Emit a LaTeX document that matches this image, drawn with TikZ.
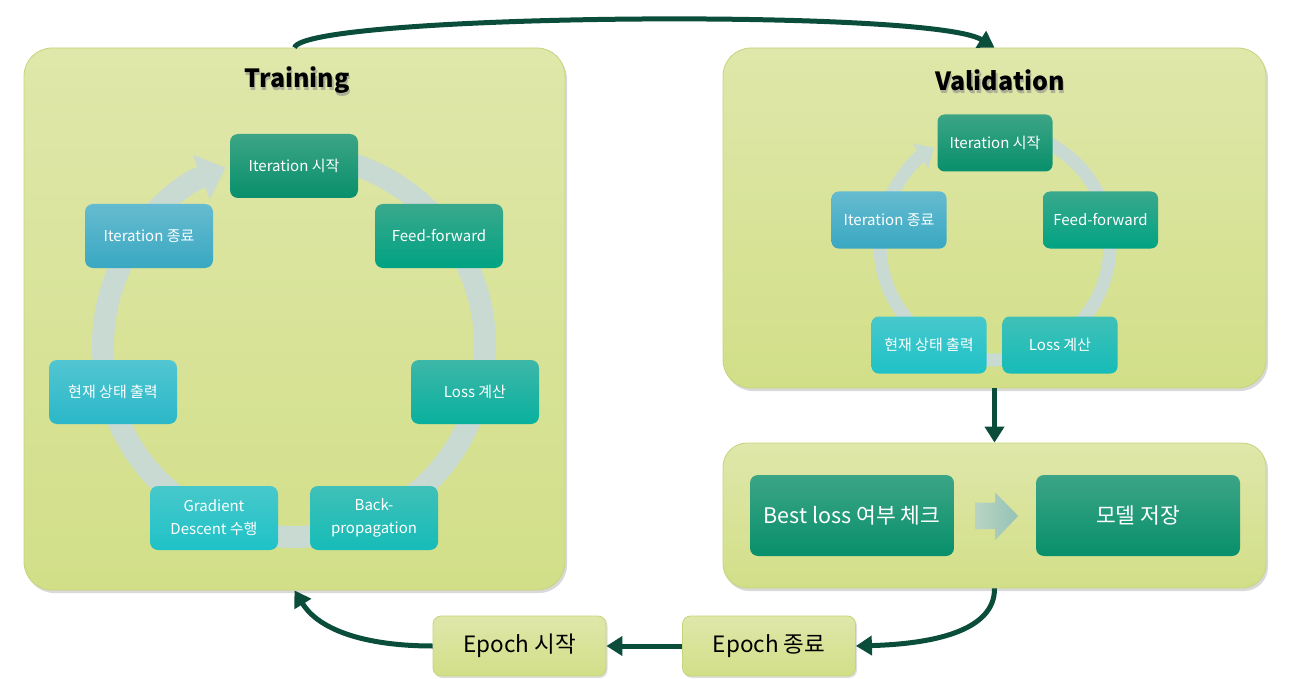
\documentclass[tikz,border=0pt]{standalone}
\usepackage{fontspec}
\setmainfont{Noto Sans CJK KR}
\usetikzlibrary{arrows.meta,shadows,calc}
\definecolor{flowc}{HTML}{0B4D3B}
\definecolor{ringc}{HTML}{C8DAD2}
\definecolor{olivetop}{HTML}{DFE7AA}
\definecolor{olivebot}{HTML}{D2DF88}
\definecolor{oliveedge}{HTML}{C6D47C}
\tikzset{
  panel/.style={rounded corners=28pt, top color=olivetop, bottom color=olivebot,
    draw=oliveedge, line width=0.8pt, inner sep=0pt,
    drop shadow={opacity=0.3, shadow xshift=2pt, shadow yshift=-3pt}},
  epochbox/.style={rounded corners=8pt, top color=olivetop, bottom color=olivebot,
    draw=oliveedge, line width=0.8pt, minimum width=173pt, minimum height=60pt, inner sep=0pt,
    font=\fontsize{22.5}{26}\selectfont, text=black,
    drop shadow={opacity=0.25, shadow xshift=1.5pt, shadow yshift=-2pt}},
  titletext/.style={font=\fontsize{25}{29}\selectfont\bfseries, text=black},
  titleshade/.style={font=\fontsize{25}{29}\selectfont\bfseries, text=black!45, opacity=0.6},
  tnode/.style={rounded corners=8pt, minimum width=128pt, minimum height=64pt, inner sep=0pt,
    text=white, align=center, font=\fontsize{15}{23}\selectfont},
  vnode/.style={rounded corners=7pt, minimum width=115pt, minimum height=57pt, inner sep=0pt,
    text=white, align=center, font=\fontsize{15}{21}\selectfont},
  bnode/.style={rounded corners=8pt, minimum width=204pt, minimum height=81pt, inner sep=0pt,
    text=white, align=center, font=\fontsize{21.5}{25}\selectfont},
  cgreen/.style={top color={rgb,255:red,60;green,165;blue,134}, bottom color={rgb,255:red,8;green,143;blue,107}},
  cgreenb/.style={top color={rgb,255:red,58;green,168;blue,140}, bottom color={rgb,255:red,0;green,163;blue,131}},
  cteal/.style={top color={rgb,255:red,61;green,183;blue,168}, bottom color={rgb,255:red,9;green,176;blue,158}},
  ctealc/.style={top color={rgb,255:red,63;green,192;blue,184}, bottom color={rgb,255:red,22;green,188;blue,184}},
  ccyan/.style={top color={rgb,255:red,71;green,200;blue,203}, bottom color={rgb,255:red,30;green,194;blue,200}},
  ccyanb/.style={top color={rgb,255:red,82;green,198;blue,210}, bottom color={rgb,255:red,42;green,183;blue,200}},
  cblue/.style={top color={rgb,255:red,101;green,187;blue,208}, bottom color={rgb,255:red,58;green,168;blue,194}},
  flow/.style={draw=flowc, line width=5pt, -{Triangle[width=19pt,length=16pt]}},
  ring/.style={draw=ringc}
}
\begin{document}
\begin{tikzpicture}[x=1pt,y=-1pt]
\useasboundingbox (0,0) rectangle (1293,679);

% panels
\node[panel, minimum width=541pt, minimum height=542pt] (train) at (294.5,319) {};
\node[panel, minimum width=543pt, minimum height=340pt] (valid) at (994.5,218) {};
\node[panel, minimum width=543pt, minimum height=145pt, rounded corners=24pt] (best) at (994.5,515.5) {};

% titles
\node[titleshade] (ttitleshadow) at (298.5,83) {Training};
\node[titletext] (ttitle) at (297,80.5) {Training};
\node[titleshade] (vtitleshadow) at (1001.5,83) {Validation};
\node[titletext] (vtitle) at (1000,80.5) {Validation};

% rings
\coordinate (tc) at (294,346);
\draw[ring, line width=22pt, -{Triangle[width=46pt,length=26pt]}]
  ($(tc)+(-75:191)$) arc[start angle=-75, end angle=249, radius=191];
\coordinate (vc) at (995,245);
\draw[ring, line width=13pt, -{Triangle[width=28pt,length=16pt]}]
  ($(vc)+(-62:115)$) arc[start angle=-62, end angle=238, radius=115];

% training cycle nodes
\node[tnode, cgreen]  (t1) at (294,166) {Iteration 시작};
\node[tnode, cgreenb] (t2) at (439,236) {Feed-forward};
\node[tnode, cteal]   (t3) at (475,392) {Loss 계산};
\node[tnode, ctealc]  (t4) at (374,518) {Back-\\propagation};
\node[tnode, ccyan]   (t5) at (214,518) {Gradient\\Descent 수행};
\node[tnode, ccyanb]  (t6) at (113,392) {현재 상태 출력};
\node[tnode, cblue]   (t7) at (149,236) {Iteration 종료};

% validation cycle nodes
\node[vnode, cgreen]  (v1) at (995,143) {Iteration 시작};
\node[vnode, cgreenb] (v2) at (1100.5,220) {Feed-forward};
\node[vnode, ctealc]  (v3) at (1060,345) {Loss 계산};
\node[vnode, ccyan]   (v4) at (929,345) {현재 상태 출력};
\node[vnode, cblue]   (v5) at (889,220) {Iteration 종료};

% best loss box
\node[bnode, cgreen] (b1) at (852,515.5) {Best loss 여부 체크};
\node[bnode, cgreen] (b2) at (1138,515.5) {모델 저장};
\path[left color={rgb,255:red,184;green,212;blue,196}, right color={rgb,255:red,150;green,194;blue,180}]
  ($(b1.east)+(21,-13)$) -- ++(20,0) -- ++(0,-10) -- ++(23,23.5) -- ++(-23,24) -- ++(0,-11) -- ++(-20,0) -- cycle;

% epoch boxes
\node[epochbox] (e1) at (519.5,646) {Epoch 시작};
\node[epochbox] (e2) at (769,646) {Epoch 종료};

% flow arrows
\draw[flow] (train.north) .. controls (305,14) and (930,8) .. (valid.north);
\draw[flow] (valid.south) -- (best.north);
\draw[flow] (best.south) .. controls (995,632) and (930,644) .. (e2.east);
\draw[flow] (e2.west) -- (e1.east);
\draw[flow] (e1.west) .. controls (370,646) and (320,632) .. (train.south);
\end{tikzpicture}
\end{document}
